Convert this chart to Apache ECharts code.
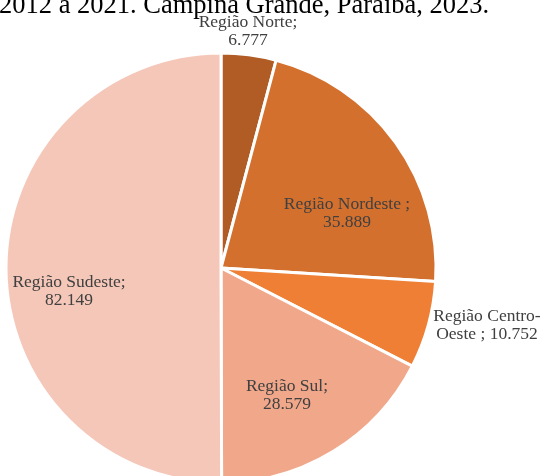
<!DOCTYPE html>
<html>
<head>
<meta charset="utf-8">
<script src="https://cdn.jsdelivr.net/npm/echarts@6/dist/echarts.min.js"></script>
<style>
  html, body { margin: 0; padding: 0; background: #fff; }
  #chart { width: 542px; height: 476px; }
</style>
</head>
<body>
<div id="chart"></div>
<script>
// Regions and their totals, in the order drawn clockwise from 12 o'clock
const regions = ['Região Norte', 'Região Nordeste', 'Região Centro-Oeste', 'Região Sul', 'Região Sudeste'];
const totals = [6777, 35889, 10752, 28579, 82149];
const sliceColors = ['#B05C24', '#D4702E', '#EE7F34', '#F0A78A', '#F4C7B8'];

const titleText = '2012 a 2021. Campina Grande, Paraíba, 2023.';

// Brazilian thousands separator
function fmt(v) {
  return String(v).replace(/\B(?=(\d{3})+(?!\d))/g, '.');
}

// Label text per region (line breaks follow the printed layout)
function labelText(name, v) {
  switch (name) {
    case 'Região Norte': return 'Região Norte;\n' + fmt(v);
    case 'Região Nordeste': return 'Região Nordeste ;\n' + fmt(v);
    case 'Região Centro-Oeste': return 'Região Centro-\nOeste ; ' + fmt(v);
    case 'Região Sul': return 'Região Sul;\n' + fmt(v);
    default: return 'Região Sudeste;\n' + fmt(v);
  }
}

// Where each label block is centred
const labelSpots = {
  'Região Norte': [248, 31],
  'Região Nordeste': [347, 213],
  'Região Centro-Oeste': [487, 325],
  'Região Sul': [287, 395],
  'Região Sudeste': [69, 291]
};

const chart = echarts.init(document.getElementById('chart'), null, { renderer: 'canvas' });

chart.setOption({
  animation: false,
  graphic: [{
    type: 'text',
    left: -1,
    top: -7,
    style: {
      text: titleText,
      font: '26.5px "Liberation Serif", "Times New Roman", serif',
      fill: '#000'
    }
  }],
  series: [{
    type: 'pie',
    center: [221, 268],
    radius: [0, 215],
    startAngle: 90,
    clockwise: true,
    label: {
      show: true,
      position: 'inside',
      color: '#404040',
      fontFamily: '"Liberation Serif", "Times New Roman", serif',
      fontSize: 17.5,
      lineHeight: 18,
      align: 'center',
      formatter: p => labelText(p.name, p.value)
    },
    labelLine: { show: false },
    labelLayout: p => {
      const name = regions[p.dataIndex];
      const s = labelSpots[name];
      return { x: s[0], y: s[1], align: 'center', verticalAlign: 'middle' };
    },
    itemStyle: { borderColor: '#fff', borderWidth: 3 },
    emphasis: { disabled: true },
    data: regions.map((n, i) => ({ name: n, value: totals[i], itemStyle: { color: sliceColors[i] } }))
  }]
});
</script>
</body>
</html>
